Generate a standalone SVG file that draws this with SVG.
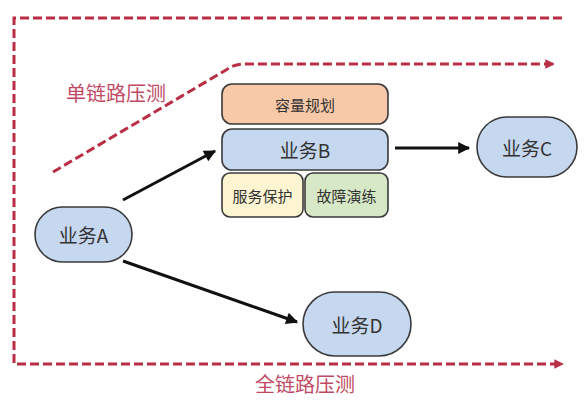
<svg xmlns="http://www.w3.org/2000/svg" width="588" height="400" viewBox="0 0 588 400">
<defs>
<style>
.dash{fill:none;stroke:#b92d45;stroke-width:3;stroke-dasharray:9 4}
.arr{fill:none;stroke:#111;stroke-width:3}
.box{stroke:#3a3a3a;stroke-width:1.6}
.t{font-family:"Noto Sans CJK SC",sans-serif;fill:#333;text-anchor:middle;dominant-baseline:central}
.red{font-family:"Noto Sans CJK SC",sans-serif;fill:#c04a63;font-size:20px;text-anchor:middle;dominant-baseline:central}
</style>
<marker id="ra" viewBox="0 0 10 10" refX="8" refY="5" markerWidth="3.2" markerHeight="3.2" orient="auto" markerUnits="strokeWidth">
<path d="M0,0 L10,5 L0,10 z" fill="#b92d45"/>
</marker>
<marker id="ba" viewBox="0 0 10 10" refX="9" refY="5" markerWidth="4.5" markerHeight="4" orient="auto" markerUnits="strokeWidth">
<path d="M0,0 L10,5 L0,10 z" fill="#111"/>
</marker>
</defs>
<rect width="588" height="400" fill="#fff"/>
<g id="connectors">
<path class="dash" d="M562,18 H14 V364 H562" marker-end="url(#ra)"/>
<path class="dash" d="M53,172 L226,70 Q234,64 244,64 H553" marker-end="url(#ra)"/>
<line class="arr" x1="123" y1="200" x2="215" y2="151" marker-end="url(#ba)"/>
<line class="arr" x1="123" y1="261" x2="297" y2="322" marker-end="url(#ba)"/>
<line class="arr" x1="395" y1="148" x2="469" y2="148" marker-end="url(#ba)"/>
</g>
<g id="label-single"><text class="red" x="116" y="92">单链路压测</text></g>
<g id="label-full"><text class="red" x="305" y="383">全链路压测</text></g>
<g id="capacity">
<rect class="box" x="222" y="84" width="166" height="40" rx="10" fill="#f7c9a8"/>
<text class="t" x="305" y="104" font-size="15">容量规划</text>
</g>
<g id="nodeB">
<rect class="box" x="222" y="129" width="166" height="41" rx="10" fill="#c6d8f0"/>
<text class="t" x="305" y="149.5" font-size="19">业务B</text>
</g>
<g id="protect">
<rect class="box" x="222" y="173" width="81" height="44" rx="8" fill="#fdf4d2"/>
<text class="t" x="262.5" y="195" font-size="15">服务保护</text>
</g>
<g id="drill">
<rect class="box" x="305" y="173" width="83" height="44" rx="8" fill="#d6e8c6"/>
<text class="t" x="346.5" y="195" font-size="15">故障演练</text>
</g>
<g id="nodeA">
<rect class="box" x="35" y="207" width="97" height="55" rx="27.5" fill="#c6d8f0"/>
<text class="t" x="83.5" y="234.5" font-size="19">业务A</text>
</g>
<g id="nodeC">
<rect class="box" x="477" y="117" width="100" height="60" rx="30" fill="#c6d8f0"/>
<text class="t" x="527" y="147" font-size="19">业务C</text>
</g>
<g id="nodeD">
<rect class="box" x="303" y="292" width="108" height="64" rx="32" fill="#c6d8f0"/>
<text class="t" x="357" y="324" font-size="19">业务D</text>
</g>
</svg>
